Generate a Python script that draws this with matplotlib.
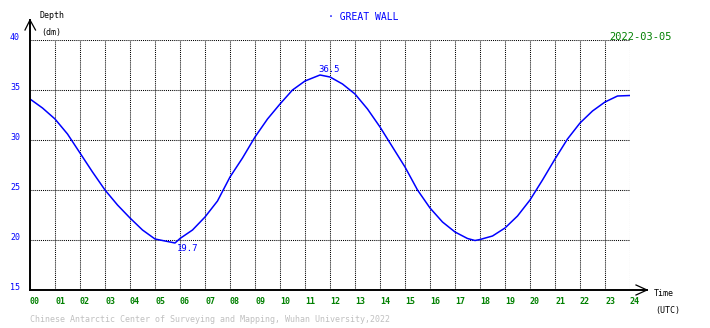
import numpy as np
import matplotlib
matplotlib.use("Agg")
import matplotlib.pyplot as plt

# tide readings at Great Wall station, depth in decimetres vs UTC hour
hours = [0, 0.5, 1, 1.5, 2, 2.5, 3, 3.5, 4, 4.5, 5, 5.5, 5.8, 6, 6.5, 7, 7.5, 8,
         8.5, 9, 9.5, 10, 10.5, 11, 11.6, 12, 12.5, 13, 13.5, 14, 14.5, 15, 15.5,
         16, 16.5, 17, 17.5, 17.8, 18, 18.5, 19, 19.5, 20, 20.5, 21, 21.5, 22,
         22.5, 23, 23.5, 24]
depth = [34.1, 33.2, 32.1, 30.6, 28.7, 26.8, 25.0, 23.5, 22.2, 21.0, 20.1, 19.85,
         19.7, 20.15, 21.0, 22.3, 23.9, 26.3, 28.2, 30.3, 32.1, 33.6, 35.0, 35.9,
         36.5, 36.3, 35.6, 34.6, 33.1, 31.3, 29.3, 27.3, 25.0, 23.2, 21.8, 20.8,
         20.15, 19.95, 20.05, 20.4, 21.2, 22.4, 24.0, 26.0, 28.1, 30.1, 31.7,
         32.9, 33.8, 34.4, 34.45]
hour_ticks = list(range(0, 25))
hour_labels = [f"{h:02d}" for h in hour_ticks]
depth_ticks = [15, 20, 25, 30, 35, 40]

station = "GREAT WALL"
date = "2022-03-05"
credit = "Chinese Antarctic Center of Surveying and Mapping, Wuhan University,2022"

W, H = 710, 328
MONO = "DejaVu Sans Mono"


def px(x, y):
    return x / W, 1 - y / H


fig = plt.figure(figsize=(W / 100, H / 100), dpi=100)
ax = fig.add_axes([30 / W, 38 / H, 600 / W, 250 / H])
ax.set_xlim(0, 24)
ax.set_ylim(15, 40)
for s in ax.spines.values():
    s.set_visible(False)
ax.set_xticks([])
ax.set_yticks([])

dots = dict(color="black", lw=0.75, ls=(0, (1, 1)), zorder=1)
for h in hour_ticks[1:]:
    ax.axvline(h, **dots)
for d in depth_ticks[1:]:
    ax.axhline(d, **dots)

# axes with open arrow heads
ax.plot([0, 0], [15, 42], color="black", lw=1.4, clip_on=False, zorder=3)
ax.plot([-0.2, 0, 0.22], [41, 42, 41], color="black", lw=0.9, clip_on=False, zorder=3)
ax.plot([0, 24.68], [15, 15], color="black", lw=1.4, clip_on=False, zorder=3)
ax.plot([24.24, 24.68, 24.24], [15.5, 15, 14.5], color="black", lw=0.9,
        clip_on=False, zorder=3)

ax.plot(hours, depth, color="#0000ff", lw=1.1, zorder=2)

# extremes
i_max = int(np.argmax(depth))
i_min = int(np.argmin(depth))
ax.annotate(f"{depth[i_max]:.1f}", (hours[i_max], depth[i_max]), xytext=(-1, 1),
            textcoords="offset points", ha="left", va="bottom", color="#0000ff",
            family=MONO, fontsize=6.5)
ax.annotate(f"{depth[i_min]:.1f}", (hours[i_min], depth[i_min]), xytext=(1, -0.5),
            textcoords="offset points", ha="left", va="top", color="#0000ff",
            family=MONO, fontsize=6.5)

for h, lab in zip(hour_ticks, hour_labels):
    ax.text(h, 15 - 1.2, lab, ha="left", va="center", color="#008000",
            family=MONO, fontsize=6, fontweight="bold")
for d in depth_ticks:
    fig.text(*px(10, 40 + (40 - d) * 10 - 2), str(d), ha="left", va="center",
             color="#0000ff", family=MONO, fontsize=6)

fig.text(*px(40, 16), "Depth", ha="left", va="center", family=MONO, fontsize=6)
fig.text(*px(41, 33), "(dm)", ha="left", va="center", family=MONO, fontsize=6)
fig.text(*px(654, 294), "Time", ha="left", va="center", family=MONO, fontsize=6)
fig.text(*px(655, 310), "(UTC)", ha="left", va="center", family=MONO, fontsize=6)
fig.text(*px(328, 17), "\u00b7 " + station, ha="left", va="center",
         color="#0000ff", family=MONO, fontsize=7)
fig.text(*px(672, 37), date, ha="right", va="center", color="#008000",
         family=MONO, fontsize=7.5)
fig.text(*px(30, 320), credit, ha="left", va="center", color="#c0c0c0",
         family=MONO, fontsize=6)

fig.savefig("out.png", dpi=100)
